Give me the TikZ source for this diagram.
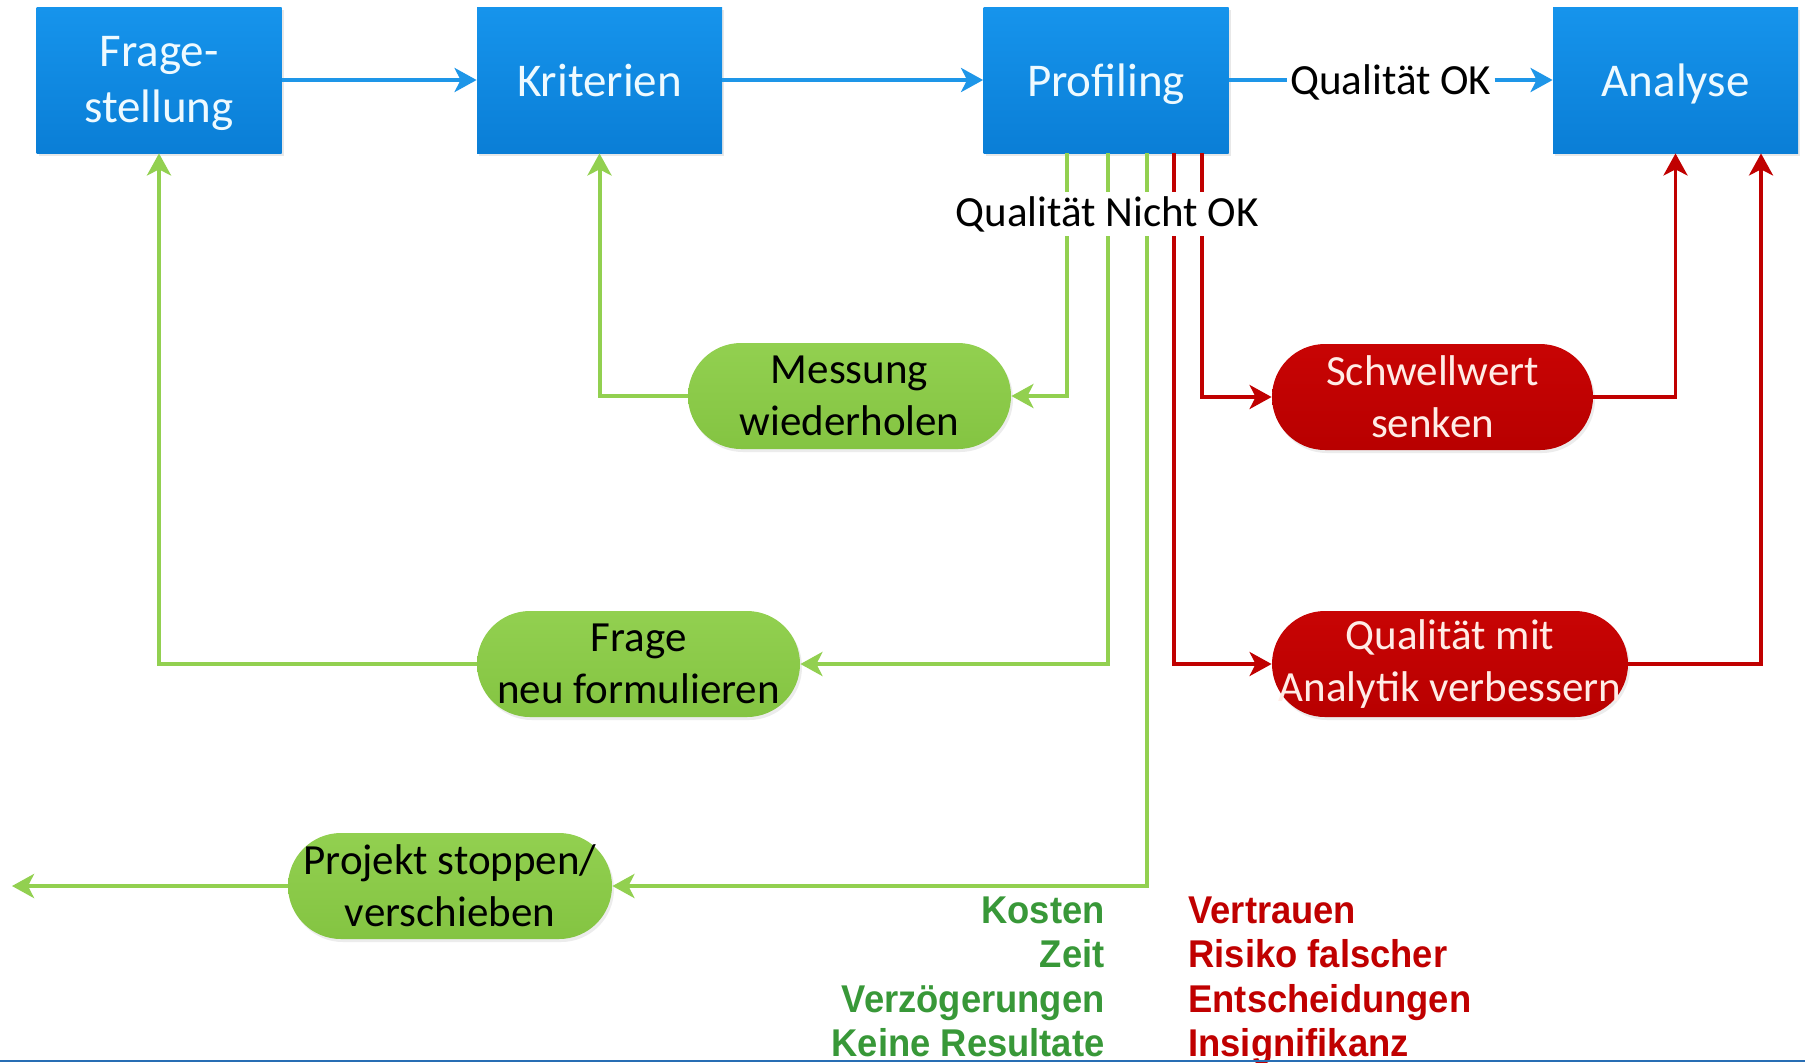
\documentclass[tikz,border=0pt]{standalone}
\usepackage{fontspec}
\setmainfont{Carlito}
\newfontfamily\arialb{Liberation Sans}[FakeStretch=0.94]
\usetikzlibrary{arrows.meta,shadows,calc}
\definecolor{boxblue}{RGB}{22,148,236}
\definecolor{boxblued}{RGB}{10,126,214}
\definecolor{arrblue}{RGB}{30,150,232}
\definecolor{pgreen}{RGB}{146,208,80}
\definecolor{pgreend}{RGB}{132,196,66}
\definecolor{lgreen}{RGB}{146,208,80}
\definecolor{pred}{RGB}{200,4,4}
\definecolor{predd}{RGB}{184,0,0}
\definecolor{lred}{RGB}{192,0,0}
\definecolor{tgreen}{RGB}{56,152,56}
\definecolor{tred}{RGB}{192,0,0}
\definecolor{edgeblue}{RGB}{40,110,180}
\definecolor{boxtext}{RGB}{238,250,255}
\definecolor{redtext}{RGB}{255,236,230}
\begin{document}
\begin{tikzpicture}[x=0.5pt,y=-0.5pt,
  bluebox/.style={rectangle, top color=boxblue, bottom color=boxblued, draw=none,
    minimum width=122.5pt, minimum height=73pt, text=boxtext, align=center,
    font=\fontsize{23.5}{28}\selectfont, inner sep=0pt,
    drop shadow={opacity=0.18,shadow xshift=1pt,shadow yshift=-1.5pt}},
  gpill/.style={rectangle, rounded corners=26.5pt, top color=pgreen, bottom color=pgreend,
    minimum height=53pt, align=center, font=\fontsize{21.5}{26}\selectfont,
    inner sep=0pt, text=black,
    drop shadow={opacity=0.15,shadow xshift=1pt,shadow yshift=-1.5pt}},
  rpill/.style={rectangle, rounded corners=26.5pt, top color=pred, bottom color=predd,
    minimum height=53pt, align=center, font=\fontsize{21.5}{26}\selectfont,
    inner sep=0pt, text=redtext,
    drop shadow={opacity=0.15,shadow xshift=1pt,shadow yshift=-1.5pt}},
  tip/.style={-{Stealth[length=11pt,width=12pt,inset=3pt]}},
  barrow/.style={draw=arrblue, line width=2pt, tip},
  bline/.style={draw=arrblue, line width=2pt},
  garrow/.style={draw=lgreen, line width=2pt, tip},
  rarrow/.style={draw=lred, line width=1.8pt, tip},
  lbl/.style={fill=white, inner sep=1.5pt, font=\fontsize{21.5}{24}\selectfont, text=black},
  gtxt/.style={anchor=base east, text=tgreen, inner sep=0pt,
    font=\arialb\bfseries\fontsize{19.35}{22}\selectfont},
  rtxt/.style={anchor=base west, text=tred, inner sep=0pt,
    font=\arialb\bfseries\fontsize{19.35}{22}\selectfont}
]
\useasboundingbox (0,0) rectangle (1805,1062);
\fill[white] (0,0) rectangle (1805,1062);

% main boxes
\node[bluebox] (fs) at (159,80) {\raisebox{-1.8pt}[\height][\depth]{\parbox{110pt}{\centering Frage-\\stellung}}};
\node[bluebox] (kr) at (599.5,80) {Kriterien};
\node[bluebox, text depth=0pt] (pr) at (1106,80) {Profiling};
\node[bluebox, text depth=0pt] (an) at (1675.5,80) {Analyse};

% pills
\node[gpill, minimum width=161.5pt] (msg) at (849.5,396) {Messung\\wiederholen};
\node[gpill, minimum width=161.5pt] (fnf) at (638.5,664) {Frage\\neu formulieren};
\node[gpill, minimum width=162pt] (ps) at (450,886) {Projekt stoppen/\\verschieben};
\node[rpill, minimum width=160.5pt] (sws) at (1432.5,397) {Schwellwert\\senken};
\node[rpill, minimum width=178pt] (qma) at (1450,664) {Qualität mit\\Analytik verbessern};

\coordinate (pend) at (12,886);

% top flow
\draw[barrow] (fs.east) -- (kr.west);
\draw[barrow] (kr.east) -- (pr.west);
\path (pr.east) -- (an.west) node[midway, lbl, text depth=0pt] (qok) {Qualität OK};
\draw[bline] (pr.east) -- (qok.west);
\draw[barrow] (qok.east) -- (an.west);

% green branches
\draw[garrow] ([xshift=-19.5pt]pr.south) |- (msg.east);
\draw[garrow] (msg.west) -| (kr.south);
\draw[garrow] ([xshift=1pt]pr.south) |- (fnf.east);
\draw[garrow] (fnf.west) -| (fs.south);
\draw[garrow] ([xshift=20.5pt]pr.south) |- (ps.east);
\draw[garrow] (ps.west) -- (pend);

% red branches
\draw[rarrow] ([xshift=34pt]pr.south) |- (qma.west);
\draw[rarrow] ([xshift=48pt]pr.south) |- (sws.west);
\draw[rarrow] (sws.east) -| (an.south);
\draw[rarrow] (qma.east) -| ([xshift=42.75pt]an.south);

% label over vertical lines
\node[lbl, inner sep=2pt] (qnok) at (1107,214) {Qualität Nicht OK};

% bottom texts
\node[gtxt] (k1) at (1105,923) {Kosten};
\node[gtxt] (k2) at (1105,967.5) {Zeit};
\node[gtxt] (k3) at (1105,1012) {Verzögerungen};
\node[gtxt] (k4) at (1105,1056) {Keine Resultate};
\node[rtxt] (v1) at (1188,923) {Vertrauen};
\node[rtxt] (v2) at (1188,967.5) {Risiko falscher};
\node[rtxt] (v3) at (1188,1012) {Entscheidungen};
\node[rtxt] (v4) at (1188,1056) {Insignifikanz};

% bottom edge line
\draw[edgeblue, line width=1pt] (0,1060.5) -- (1805,1060.5);
\end{tikzpicture}
\end{document}
